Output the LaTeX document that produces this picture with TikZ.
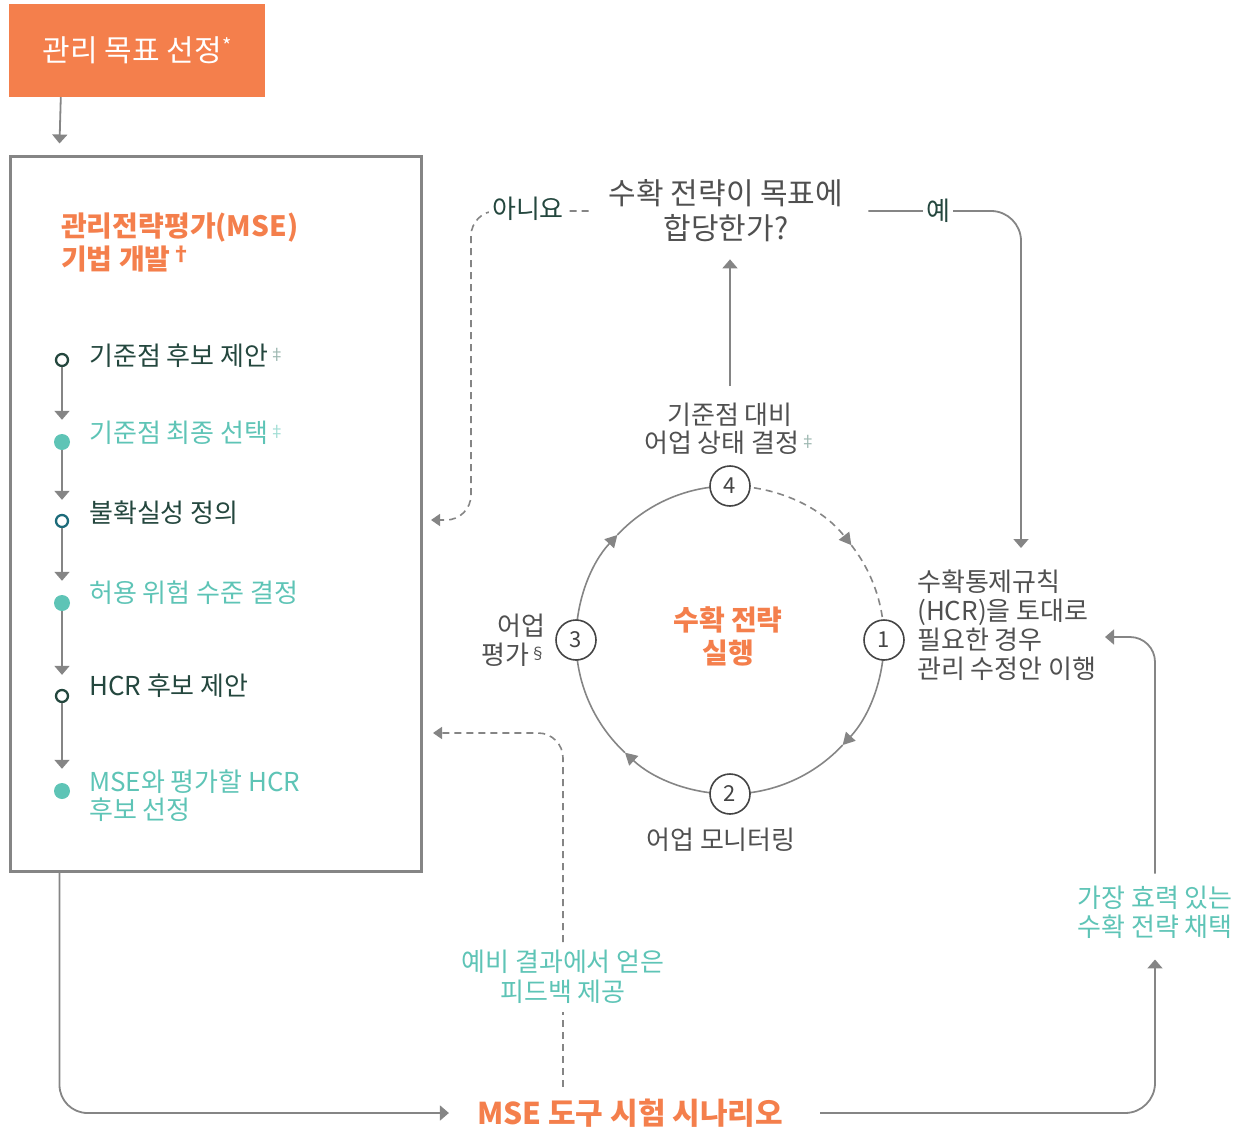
\documentclass[tikz,border=0pt]{standalone}
\usepackage{fontspec}
\setmainfont{Noto Sans CJK KR}
\usetikzlibrary{arrows.meta,calc}
\definecolor{orng}{HTML}{F47F4C}
\definecolor{tealc}{HTML}{5EC4B6}
\definecolor{dkgreen}{HTML}{24473E}
\definecolor{txtgray}{HTML}{505050}
\definecolor{lngray}{HTML}{858585}
\definecolor{cblue}{HTML}{1C6B7A}
\definecolor{numgray}{HTML}{444444}
\definecolor{markgray}{HTML}{9AB5AE}
\newcommand\sym[2][markgray]{\kern0.5pt\raisebox{5pt}{\fontsize{16}{16}\selectfont\color{#1}#2}}
\newcommand\bigsym[2][white]{\kern0.5pt\raisebox{8pt}{\fontsize{20}{20}\selectfont\color{#1}#2}}
\tikzset{
  ln/.style={draw=lngray,line width=1.8pt},
  arr/.style={ln,-{Triangle[length=9pt,width=15pt]}},
  darr/.style={ln,line width=1.6pt,dash pattern=on 7pt off 5pt},
  txt/.style={inner sep=2pt,font=\fontsize{26}{29}\selectfont},
  big/.style={inner sep=2pt,font=\fontsize{30}{35}\selectfont},
  bold/.style={inner sep=2pt,text=orng,font=\bfseries\fontsize{28}{33}\selectfont},
  opendot/.style={circle,draw=#1,line width=2.3pt,fill=white,inner sep=0pt,minimum size=12pt},
  fulldot/.style={circle,fill=tealc,inner sep=0pt,minimum size=16pt},
  num/.style={circle,draw=numgray,line width=1.6pt,fill=white,inner sep=0pt,minimum size=40pt,text=numgray,font=\fontsize{22}{26}\selectfont},
}
\begin{document}
\begin{tikzpicture}[x=1pt,y=1pt]
\useasboundingbox (0,0) rectangle (1246,-1131);
% goal box
\node[fill=orng,text=white,minimum width=256pt,minimum height=93pt,inner sep=0pt,font=\fontsize{30}{35}\selectfont] (goal) at (137,-50.5) {관리 목표 선정\bigsym{*}};
% MSE box
\node[draw=lngray,line width=3pt,minimum width=411pt,minimum height=714pt,inner sep=0pt] (msebox) at (215.5,-514) {};
\draw[arr] ([xshift=52pt]goal.south west) -- ([xshift=51pt,yshift=12pt]msebox.north west);
\node[bold,anchor=west,align=left] (msetitle) at (59,-242) {관리전략평가(MSE)\\기법 개발\bigsym[orng]{†}};
% timeline
\node[opendot=dkgreen] (d1) at (62,-360) {};
\node[fulldot] (d2) at (62,-442) {};
\node[opendot=cblue] (d3) at (62,-521) {};
\node[fulldot] (d4) at (62,-603) {};
\node[opendot=dkgreen] (d5) at (62,-696) {};
\node[fulldot] (d6) at (62,-791) {};
\node[txt,anchor=west,text=dkgreen] (t1) at (87,-356) {기준점 후보 제안\sym{‡}};
\node[txt,anchor=west,text=tealc] (t2) at (87,-433) {기준점 최종 선택\sym[tealc!60]{‡}};
\node[txt,anchor=west,text=dkgreen] (t3) at (87,-513) {불확실성 정의};
\node[txt,anchor=west,text=tealc] (t4) at (87,-593) {허용 위험 수준 결정};
\node[txt,anchor=west,text=dkgreen] (t5) at (87,-686) {HCR 후보 제안};
\node[txt,anchor=west,text=tealc,align=left,font=\fontsize{26}{28}\selectfont] (t6) at (87,-796) {MSE와 평가할 HCR\\후보 선정};
\foreach \a/\b in {d1/d2,d2/d3,d3/d4,d4/d5,d5/d6}
  \draw[arr] (\a.south) -- ([yshift=14pt]\b.north);
% question
\node[big,text=txtgray,align=center] (q) at (726,-211) {수확 전략이 목표에\\합당한가?};
% status
\node[txt,text=txtgray,align=center,font=\fontsize{26}{28}\selectfont] (status) at (730,-429) {기준점 대비\\어업 상태 결정\sym{‡}};
\draw[arr] ([yshift=15pt]status.north) -- ([yshift=-15pt]status.north |- q.south);
% cycle
\coordinate (C) at (730,-640);
\draw[ln,line width=1.6pt,-{Triangle[length=12pt,width=13pt]}] ($(C)+(0:154)$) arc[start angle=0,end angle=-43,radius=154];
\draw[ln,line width=1.6pt] ($(C)+(-43:154)$) arc[start angle=-43,end angle=-90,radius=154];
\draw[ln,line width=1.6pt,-{Triangle[length=12pt,width=13pt]}] ($(C)+(-90:154)$) arc[start angle=-90,end angle=-133,radius=154];
\draw[ln,line width=1.6pt] ($(C)+(-133:154)$) arc[start angle=-133,end angle=-180,radius=154];
\draw[ln,line width=1.6pt,-{Triangle[length=12pt,width=13pt]}] ($(C)+(180:154)$) arc[start angle=180,end angle=137,radius=154];
\draw[ln,line width=1.6pt] ($(C)+(137:154)$) arc[start angle=137,end angle=90,radius=154];
\draw[darr,-{Triangle[length=12pt,width=13pt]}] ($(C)+(90:154)$) arc[start angle=90,end angle=38,radius=154];
\draw[darr] ($(C)+(38:154)$) arc[start angle=38,end angle=0,radius=154];
\node[num] (n1) at ($(C)+(0:154)$) {1};
\node[num] (n2) at ($(C)+(-90:154)$) {2};
\node[num] (n3) at ($(C)+(180:154)$) {3};
\node[num] (n4) at ($(C)+(90:154)$) {4};
\node[bold,align=center] (impl) at (728,-636) {수확 전략\\실행};
\node[txt,text=txtgray] (monit) at (721,-840) {어업 모니터링};
\node[txt,text=txtgray,align=right,anchor=east] (assess) at (548,-640) {어업\\평가\sym[txtgray]{§}};
% HCR text
\node[txt,text=txtgray,align=left,anchor=west] (hcr) at (915,-625) {수확통제규칙\\(HCR)을 토대로\\필요한 경우\\관리 수정안 이행};
% yes / no
\coordinate (yesin) at (1021,-548);
\draw[arr,rounded corners=30pt] ([xshift=23pt]q.east) -| (yesin);
\node[txt,fill=white,text=dkgreen,inner sep=3pt] (yes) at (938,-211) {예};
\coordinate (noin) at (431,-520);
\draw[darr,-{Triangle[length=9pt,width=12pt]},rounded corners=25pt] ([xshift=-18pt]q.west) -| ([xshift=40pt]noin) -- (noin);
\node[txt,fill=white,text=dkgreen,inner sep=3pt] (no) at (528,-209) {아니요};
% bottom
\node[bold,font=\bfseries\fontsize{30}{36}\selectfont] (scen) at (630,-1113) {MSE 도구 시험 시나리오};
\draw[arr,rounded corners=28pt] ([xshift=51pt]msebox.south west) |- ([xshift=-26pt]scen.west);
\node[txt,text=tealc,align=center] (adopt) at (1155,-912) {가장 효력 있는\\수확 전략 채택};
\draw[arr,rounded corners=30pt] ([xshift=35pt]scen.east) -| ([yshift=-19pt]adopt.south);
\coordinate (hcrin) at (1105,-637);
\draw[arr,rounded corners=25pt] ([yshift=10pt]adopt.north) |- (hcrin);
% feedback
\node[txt,text=tealc,align=center,font=\fontsize{26}{30}\selectfont] (fb) at (563,-977) {예비 결과에서 얻은\\피드백 제공};
\coordinate (fbin) at (433,-733);
\draw[darr] ([yshift=10pt]scen.north -| fb.south) -- ([yshift=-6pt]fb.south);
\draw[darr,-{Triangle[length=9pt,width=12pt]},rounded corners=25pt] ([yshift=6pt]fb.north) |- (fbin);
\end{tikzpicture}
\end{document}
